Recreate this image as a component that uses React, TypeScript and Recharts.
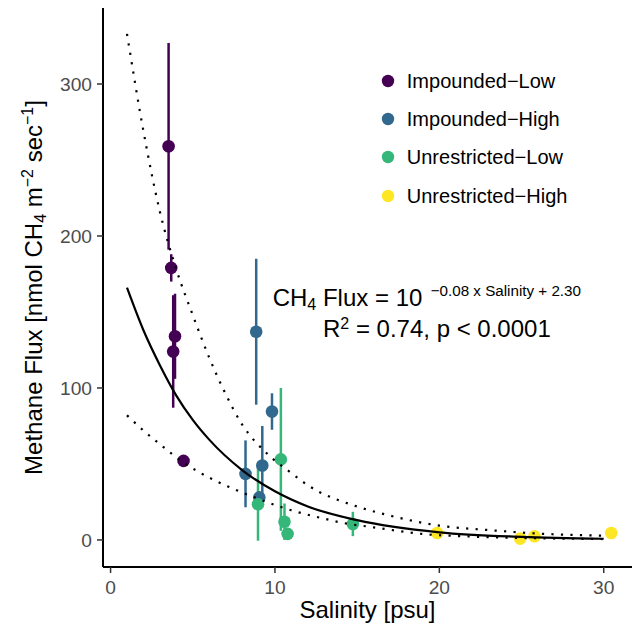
import React from 'react';
import { ComposedChart, Scatter, Line, XAxis, YAxis, ErrorBar, Legend } from 'recharts';

const FONT = '"Liberation Sans", Arial, Helvetica, sans-serif';

// ---- categories ----
const groupNames = ['Impounded−Low', 'Impounded−High', 'Unrestricted−Low', 'Unrestricted−High'];
const groupColors = ['#440154', '#31688E', '#35B779', '#FDE725'];

// ---- series values (salinity, flux, flux error) ----
const impLowSalinity = [3.53, 3.69, 3.92, 3.81, 4.44];
const impLowFlux = [259, 179, 134, 124, 52];
const impLowErr = [68, 9, 28, 37, 2];

const impHighSalinity = [8.86, 9.82, 8.21, 9.23, 9.05];
const impHighFlux = [137, 84.5, 43.5, 49, 28];
const impHighErr = [48, 12, 22, 26, 3];

const unrLowSalinity = [10.36, 8.97, 10.58, 10.77, 14.74];
const unrLowFlux = [53, 23.5, 12, 4, 10.5];
const unrLowErr = [47, 24, 12, 2, 8];

const unrHighSalinity = [19.87, 24.92, 25.79, 30.46];
const unrHighFlux = [4.6, 0.9, 2.4, 4.6];
const unrHighErr = [0, 0, 0, 0];

// ---- fitted curve and prediction bounds ----
const fitSalinity = [1, 2, 3, 4, 5, 6, 8, 10, 12, 15, 20, 25, 30];
const fitFlux = [166, 138, 115, 95, 79, 66, 46, 32, 22, 13, 5, 2, 0.8];

const upperSalinity = [1, 2, 3, 4, 5, 6, 7, 8, 9.5, 11, 12, 15, 17, 20, 23, 26, 30];
const upperFlux = [333, 269, 216, 178, 148, 120, 96, 76, 57, 44, 36, 22, 16, 9.4, 6.5, 4.2, 2.8];

const lowerSalinity = [1, 2, 3, 4.5, 6, 7.5, 9, 11, 13, 14, 16, 19, 22, 26, 30];
const lowerFlux = [82, 72, 63, 50.5, 41, 33.5, 27, 19.5, 14, 11.5, 8.3, 3.9, 2.2, 1.1, 0.6];

// ---- ticks ----
const xTicks = [0, 10, 20, 30];
const yTicks = [0, 100, 200, 300];

const toPoints = (xs: number[], ys: number[], es?: number[]) =>
  xs.map((x, i) => ({ x, y: ys[i], err: es ? es[i] : 0 }));

const groups = [
  toPoints(impLowSalinity, impLowFlux, impLowErr),
  toPoints(impHighSalinity, impHighFlux, impHighErr),
  toPoints(unrLowSalinity, unrLowFlux, unrLowErr),
  toPoints(unrHighSalinity, unrHighFlux, unrHighErr),
];

const fitData = toPoints(fitSalinity, fitFlux);
const upperData = toPoints(upperSalinity, upperFlux);
const lowerData = toPoints(lowerSalinity, lowerFlux);

const makeDot = (color: string) => (props: any) =>
  <circle cx={props.cx} cy={props.cy} r={6.3} fill={color} />;

const renderLegend = (props: any) => {
  const items = (props.payload || [])
    .filter((p: any) => p.type !== 'none' && groupNames.includes(p.value))
    .slice()
    .sort((a: any, b: any) => groupNames.indexOf(a.value) - groupNames.indexOf(b.value));
  return (
    <div style={{ fontFamily: FONT }}>
      {items.map((p: any) => (
        <div key={p.value} style={{ display: 'flex', alignItems: 'center', height: 38.3 }}>
          <svg width={14} height={14} style={{ display: 'block' }}>
            <circle cx={7} cy={7} r={6.2} fill={p.color} />
          </svg>
          <span style={{ marginLeft: 11.5, fontSize: 20, color: '#000', lineHeight: 1, whiteSpace: 'nowrap' }}>{p.value}</span>
        </div>
      ))}
    </div>
  );
};

export default function App() {
  return (
    <div style={{ position: 'absolute', left: 0, top: 0, width: 638, height: 631, background: '#fff' }}>
      <ComposedChart width={638} height={631} margin={{ top: 8, right: 6, bottom: 0, left: 0 }}>
        <XAxis
          type="number"
          dataKey="x"
          domain={[-0.46, 31.72]}
          allowDataOverflow
          ticks={xTicks}
          height={64}
          tickSize={6}
          tickMargin={7}
          axisLine={{ stroke: '#000', strokeWidth: 2 }}
          tickLine={{ stroke: '#333333', strokeWidth: 1.5 }}
          tick={{ fill: '#4D4D4D', fontSize: 19.2, fontFamily: FONT }}
        />
        <YAxis
          type="number"
          domain={[-17.8, 350]}
          allowDataOverflow
          ticks={yTicks}
          width={103}
          tickSize={6}
          tickMargin={5}
          axisLine={{ stroke: '#000', strokeWidth: 2 }}
          tickLine={{ stroke: '#333333', strokeWidth: 1.5 }}
          tick={{ fill: '#4D4D4D', fontSize: 19.2, fontFamily: FONT }}
        />
        {groups.map((g, i) => (
          <Scatter
            key={groupNames[i]}
            name={groupNames[i]}
            data={g}
            dataKey="y"
            fill={groupColors[i]}
            shape={makeDot(groupColors[i])}
            isAnimationActive={false}
          >
            <ErrorBar dataKey="err" direction="y" width={0} stroke={groupColors[i]} strokeWidth={2.5} />
          </Scatter>
        ))}
        <Line data={upperData} dataKey="y" type="monotone" stroke="#000" strokeWidth={2.2} strokeDasharray="2.2 7.3"
          dot={false} activeDot={false} legendType="none" isAnimationActive={false} zIndex={1000} />
        <Line data={lowerData} dataKey="y" type="monotone" stroke="#000" strokeWidth={2.2} strokeDasharray="2.2 7.3"
          dot={false} activeDot={false} legendType="none" isAnimationActive={false} zIndex={1000} />
        <Line data={fitData} dataKey="y" type="monotone" stroke="#000" strokeWidth={2.2}
          dot={false} activeDot={false} legendType="none" isAnimationActive={false} zIndex={1000} />
        <Legend
          layout="vertical"
          align="center"
          verticalAlign="middle"
          itemSorter={null as any}
          content={renderLegend}
          wrapperStyle={{ position: 'absolute', left: 381.3, top: 61.5, width: 'auto', height: 'auto', margin: 0 }}
        />
      </ComposedChart>
      <svg width={638} height={631} style={{ position: 'absolute', left: 0, top: 0, pointerEvents: 'none' }} fontFamily={FONT}>
        <text x={272.7} y={306} fontSize={24} fill="#000">
          CH<tspan fontSize={16} dy={4}>4</tspan><tspan dy={-4}> Flux = 10</tspan>
        </text>
        <text x={430.7} y={295.5} fontSize={15.2} fill="#000">−0.08 x Salinity + 2.30</text>
        <text x={323} y={336.7} fontSize={24} fill="#000">
          R<tspan fontSize={16} dy={-8}>2</tspan><tspan dy={8}> = 0.74, p &lt; 0.0001</tspan>
        </text>
        <text x={367.5} y={618} fontSize={24} fill="#000" textAnchor="middle">Salinity [psu]</text>
        <text x={41.5} y={287.5} fontSize={24} fill="#000" textAnchor="middle" transform="rotate(-90, 41.5, 287.5)">
          Methane Flux [nmol CH<tspan fontSize={16} dy={4}>4</tspan><tspan dy={-4}> m</tspan>
          <tspan fontSize={16} dy={-9}>−2</tspan><tspan dy={9}> sec</tspan>
          <tspan fontSize={16} dy={-9}>−1</tspan><tspan dy={9}>]</tspan>
        </text>
      </svg>
    </div>
  );
}
